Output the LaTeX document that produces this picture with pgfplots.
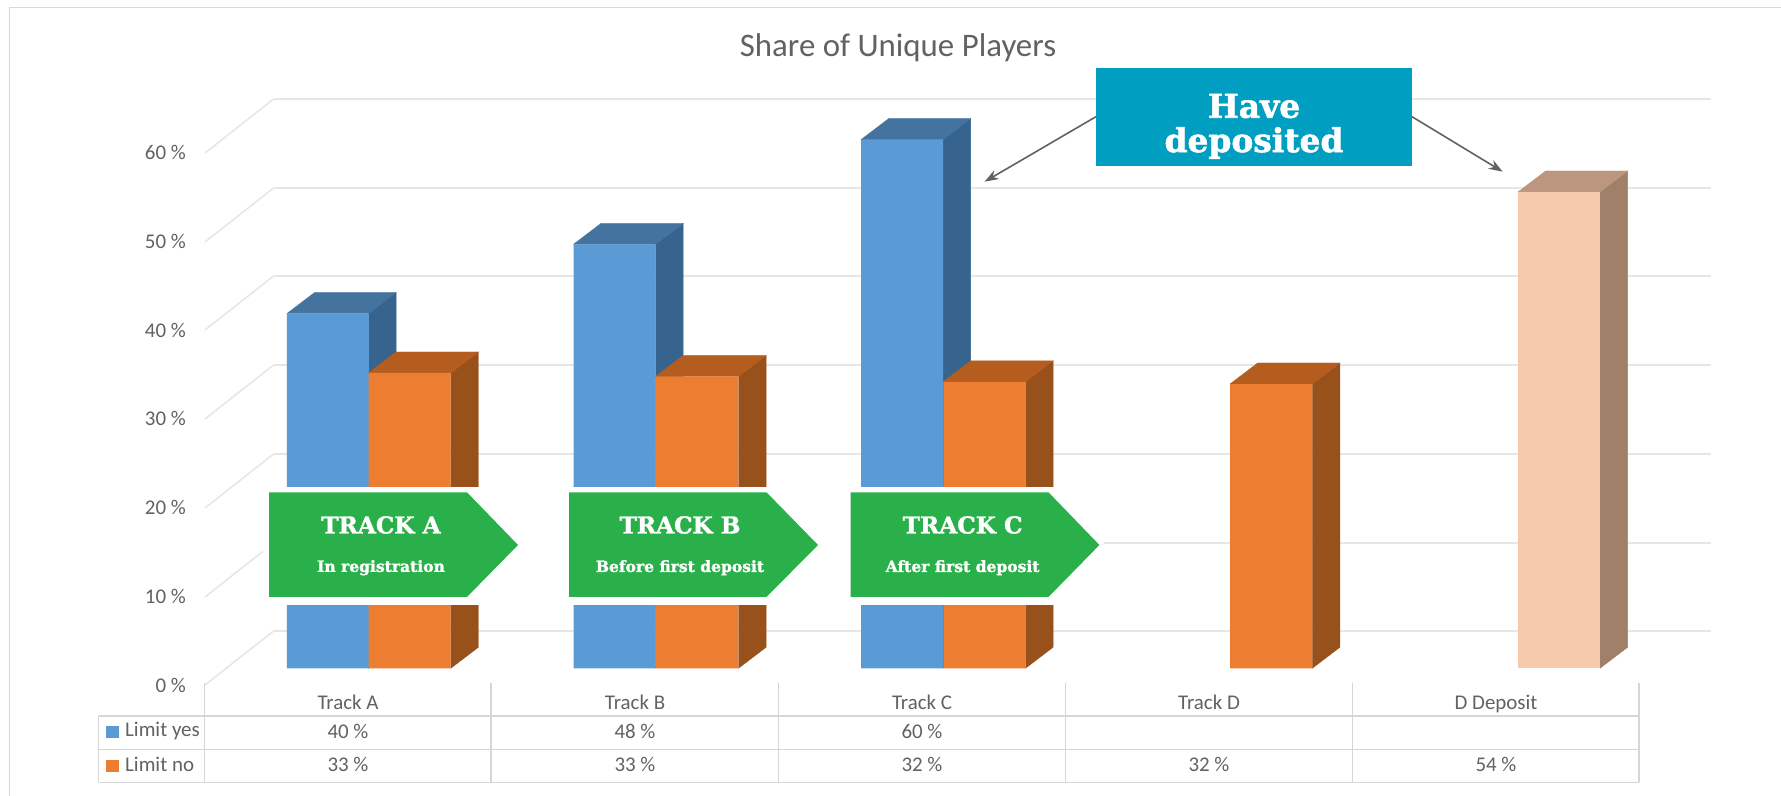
\documentclass[border=0pt]{standalone}
\usepackage{fontspec}
\usepackage{pgfplots}
\pgfplotsset{compat=1.18}
\usetikzlibrary{arrows.meta}
\setmainfont{Carlito}
\newfontfamily\slab{DejaVu Serif}[BoldFeatures={FakeBold=1.6}]
\definecolor{txt}{HTML}{626262}
\definecolor{gridc}{HTML}{E6E6E6}
\definecolor{frame}{HTML}{D9D9D9}
\definecolor{tabl}{HTML}{D6D6D6}
\definecolor{bluef}{HTML}{5B9BD5}
\definecolor{bluet}{HTML}{44739F}
\definecolor{blues}{HTML}{36648E}
\definecolor{orf}{HTML}{ED7D31}
\definecolor{ort}{HTML}{B55D1F}
\definecolor{ors}{HTML}{98511A}
\definecolor{pef}{HTML}{F6CBAC}
\definecolor{pet}{HTML}{BC967E}
\definecolor{pes}{HTML}{A1806A}
\definecolor{green1}{HTML}{2AB04A}
\definecolor{teal1}{HTML}{009EC1}
% side and top faces of one bar: left x, right x, value, top colour, side colour
\newcommand{\faces}[5]{%
  \pgfmathsetmacro{\xb}{#2+27.6}\pgfmathsetmacro{\xc}{#1+27.6}\pgfmathsetmacro{\vt}{#3+2.37}%
  \addplot[fill=#5,draw=#5,line width=0.3bp,forget plot,yshift=16.7bp] coordinates {(#2,0)(\xb,2.37)(\xb,\vt)(#2,#3)} --cycle;
  \addplot[fill=#4,draw=#4,line width=0.3bp,forget plot,yshift=16.7bp] coordinates {(#1,#3)(#2,#3)(\xb,\vt)(\xc,\vt)} --cycle;
}
\newcommand{\px}[1]{\fontsize{#1}{#1}\selectfont}
\begin{document}
\begin{tikzpicture}
\path[use as bounding box] (0,0) rectangle (1781bp,796bp);
\begin{scope}[x=1bp,y=-1bp,shift={(0bp,796bp)}]
  \fill[white] (0,0) rectangle (1781,796);
  \draw[frame,line width=1.5bp] (9.6,796) -- (9.6,7.5) -- (1781,7.5);
  % walls
  \foreach \yy/\w in {99/2.6,188/2.2,276/1.6,365/1.6,454/1.6,543/1.6,631/2.4}{
    \draw[gridc,line width=\w bp] (273.6,\yy) -- (1711,\yy);
    \draw[gridc,line width=1.5bp] (205,\yy+54) -- (273.6,\yy);
  }
\end{scope}
\begin{axis}[
  at={(205bp,111bp)},anchor=south west,
  scale only axis,width=1576bp,height=685bp,
  xmin=205,xmax=1781,ymin=0,ymax=77.227,
  clip=false,
  axis line style={draw=none},
  tick style={draw=none},
  ytick={0,10,20,30,40,50,60},
  yticklabel={\pgfmathprintnumber{\tick} \%},
  /pgf/number format/assume math mode=true,
  yticklabel style={text=txt,font=\px{21},xshift=-19bp},
  xtick={348,635,922,1209,1496},
  xticklabels={Track A,Track B,Track C,Track D,D Deposit},
  xticklabel style={text=txt,font=\px{21},yshift=-10bp},
  tick label style={inner sep=0pt},
  ytick pos=left,xtick pos=bottom,
  typeset ticklabels with strut,
]
% Limit yes
\faces{287}{368.5}{40}{bluet}{blues}
\faces{573.5}{655.5}{47.8}{bluet}{blues}
\faces{861}{943}{59.6}{bluet}{blues}
\addplot[ybar,bar width=82bp,bar shift=0pt,fill=bluef,draw=none,yshift=16.7bp] coordinates {(327.75,40)(614.5,47.8)(902,59.6)};
% Limit no
\faces{368.5}{450.8}{33.3}{ort}{ors}
\faces{655.5}{738.5}{32.9}{ort}{ors}
\faces{943}{1025.5}{32.3}{ort}{ors}
\faces{1230}{1312.3}{32.05}{ort}{ors}
\addplot[ybar,bar width=82bp,bar shift=0pt,fill=orf,draw=none,yshift=16.7bp] coordinates {(409.65,33.3)(697,32.9)(984.25,32.3)(1271.15,32.05)};
% D Deposit
\faces{1518}{1600}{53.7}{pet}{pes}
\addplot[ybar,bar width=82bp,bar shift=0pt,fill=pef,draw=none,yshift=16.7bp] coordinates {(1559,53.7)};
\end{axis}
\begin{scope}[x=1bp,y=-1bp,shift={(0bp,796bp)}]
  \node[text=txt,font=\px{33},inner sep=0pt] at (898,48) {Share of Unique Players};
  % band cut out behind the arrows
  \fill[white] (263,487) rectangle (1104,605);
  \foreach \l/\s/\t/\cx/\ta/\tb in {
     269/467/518/381/TRACK A/In registration,
     569/766.5/818/680/TRACK B/Before first deposit,
     850.7/1048.5/1099.4/962.6/TRACK C/After first deposit}{
    \fill[green1] (\l,492.3) -- (\s,492.3) -- (\t,545) -- (\s,597) -- (\l,597) -- cycle;
    \node[text=white,font=\slab\bfseries\px{23.3},inner sep=0pt] at (\cx,525) {\ta};
    \node[text=white,font=\slab\bfseries\px{15.6},inner sep=0pt] at (\cx,567.7) {\tb};
  }
  % callout
  \fill[teal1] (1096,68) rectangle (1412,165.7);
  \node[text=white,font=\slab\bfseries\px{33},inner sep=0pt] at (1254,106) {Have};
  \node[text=white,font=\slab\bfseries\px{33},inner sep=0pt] at (1254,143) {deposited};
  \draw[-{Stealth[length=14bp,width=10bp]},txt,line width=1.6bp] (1096,116.7) -- (984.6,181.7);
  \draw[-{Stealth[length=14bp,width=10bp]},txt,line width=1.6bp] (1412,116.7) -- (1502.7,171.7);
  % data table
  \draw[tabl,line width=1.1bp] (98.7,716) -- (1639,716) (98.7,749.3) -- (1639,749.3) (98.7,782.3) -- (1639,782.3);
  \draw[tabl,line width=1.1bp] (98.7,716) -- (98.7,782.3);
  \foreach \xx in {204.7,491,778.7,1065.4,1352.6,1639}{\draw[tabl,line width=1.1bp] (\xx,683) -- (\xx,782.3);}
  \fill[bluef] (106,726) rectangle (119,738);
  \fill[orf] (106,760) rectangle (119,772);
  \node[text=txt,font=\px{21},inner sep=0pt,anchor=west] at (125,731) {Limit yes};
  \node[text=txt,font=\px{21},inner sep=0pt,anchor=west] at (125,764) {Limit no};
  \foreach \xx/\v in {348/40,635/48,922/60}{\node[text=txt,font=\px{21},inner sep=0pt] at (\xx,731) {\v\ \%};}
  \foreach \xx/\v in {348/33,635/33,922/32,1209/32,1496/54}{\node[text=txt,font=\px{21},inner sep=0pt] at (\xx,764) {\v\ \%};}
\end{scope}
\end{tikzpicture}
\end{document}
